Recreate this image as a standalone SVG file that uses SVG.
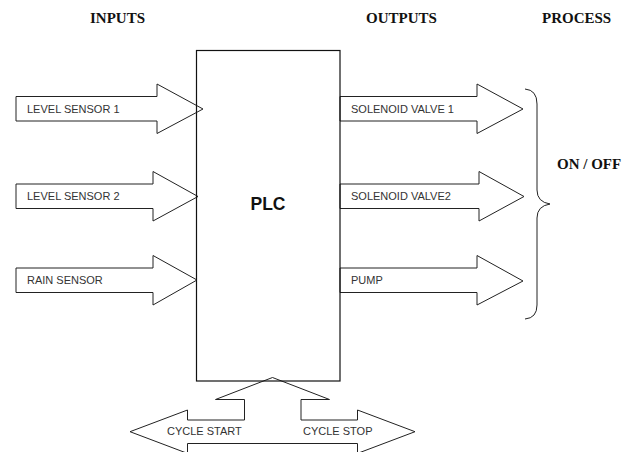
<svg xmlns="http://www.w3.org/2000/svg" width="636" height="452" viewBox="0 0 636 452">
<style>
.hdr{font-family:"Liberation Serif","Times New Roman",serif;font-weight:bold;font-size:15px;fill:#111}
.lbl{font-family:"Liberation Sans",Arial,sans-serif;font-size:11px;fill:#333}
.blk{fill:#fff;stroke:#222;stroke-width:1}
.box{fill:none;stroke:#111;stroke-width:1.2}
.brace{fill:none;stroke:#222;stroke-width:1}
</style>
<rect width="636" height="452" fill="#fff"/>
<g id="headers">
<text class="hdr" x="90" y="22.5">INPUTS</text>
<text class="hdr" x="366" y="22.5">OUTPUTS</text>
<text class="hdr" x="542" y="22.5">PROCESS</text>
</g>
<g id="connectors">
<g id="in-level1">
<polygon class="blk" points="16,96.5 157,96.5 157,84 203,109 157,133.5 157,121 16,121"/>
<text class="lbl" x="27" y="112.5">LEVEL SENSOR 1</text>
</g>
<g id="in-level2">
<polygon class="blk" points="16,184 153,184 153,171.5 198,196.5 153,221 153,208.5 16,208.5"/>
<text class="lbl" x="27" y="200">LEVEL SENSOR 2</text>
</g>
<g id="in-rain">
<polygon class="blk" points="16,268 153,268 153,255.5 197,280 153,305 153,292.5 16,292.5"/>
<text class="lbl" x="27" y="283.5">RAIN SENSOR</text>
</g>
<g id="out-sv1">
<polygon class="blk" points="340,96.5 477,96.5 477,84 523,109 477,133.5 477,121 340,121"/>
<text class="lbl" x="351" y="112.5">SOLENOID VALVE 1</text>
</g>
<g id="out-sv2">
<polygon class="blk" points="340,184 479,184 479,171.5 524,196.5 479,221 479,208.5 340,208.5"/>
<text class="lbl" x="351" y="200">SOLENOID VALVE2</text>
</g>
<g id="out-pump">
<polygon class="blk" points="340,268 477,268 477,255.5 523,281 477,305 477,292.5 340,292.5"/>
<text class="lbl" x="351" y="283.5">PUMP</text>
</g>
<g id="cycle">
<polygon class="blk" points="272.5,377.5 329.5,399.5 301,399.5 301,420 357.5,420 357.5,410 415,431.7 357.5,453.4 357.5,443.5 187.5,443.5 187.5,453.4 130,431.7 187.5,410 187.5,420 244.5,420 244.5,399.5 215.5,399.5"/>
<text class="lbl" x="167" y="434.5">CYCLE START</text>
<text class="lbl" x="303" y="434.5">CYCLE STOP</text>
</g>
</g>
<g id="plc">
<rect class="box" x="196.5" y="50.5" width="143.5" height="330.5"/>
<text x="268" y="210" text-anchor="middle" font-family="Liberation Sans,Arial,sans-serif" font-weight="bold" font-size="17.5" fill="#111">PLC</text>
</g>
<g id="process">
<path class="brace" d="M525,89 Q537,90 537,104 L537,190 Q537,202 550,204 Q537,206 537,218 L537,305 Q537,318 525,319"/>
<text class="hdr" x="557" y="169">ON / OFF</text>
</g>
</svg>
